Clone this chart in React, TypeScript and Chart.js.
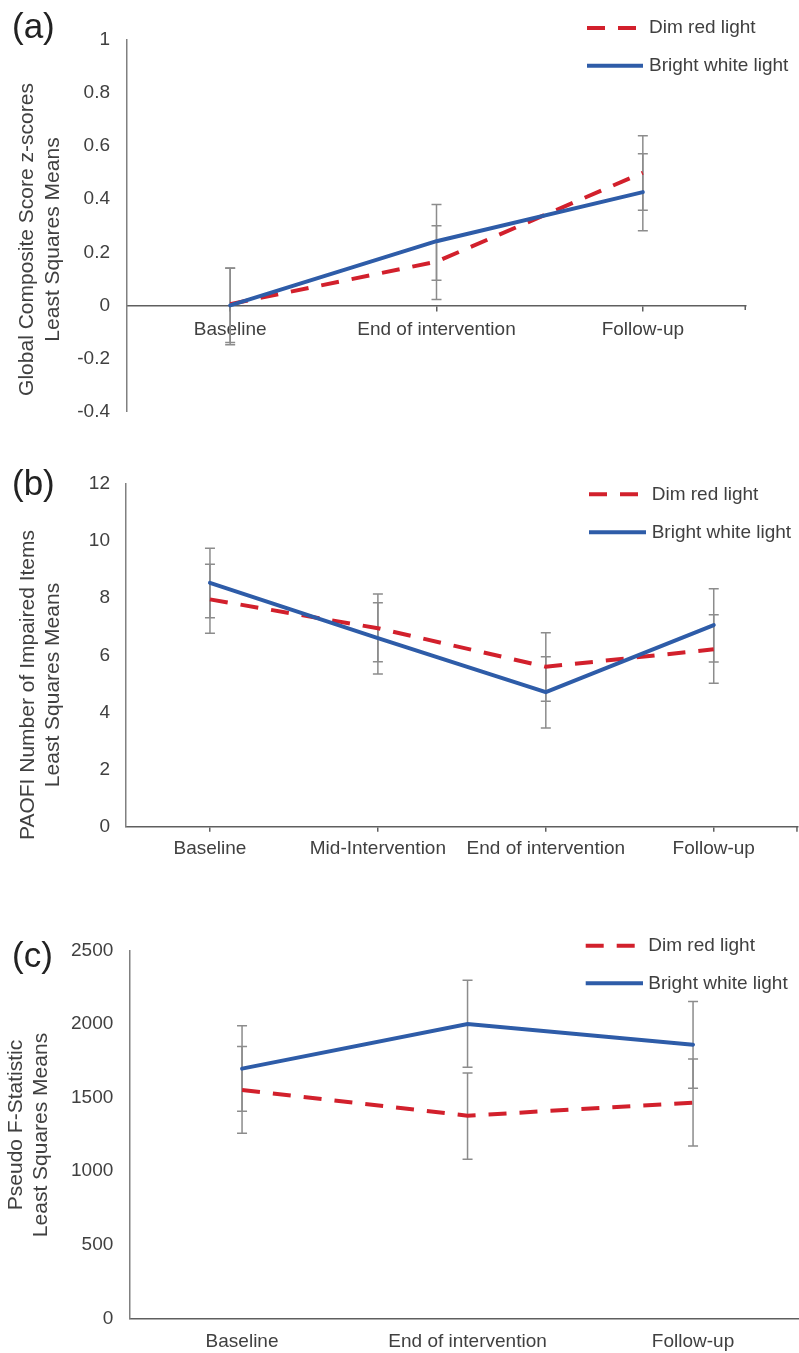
import React, { useEffect, useRef } from 'react';
import { Chart, registerables } from 'chart.js';

Chart.register(...registerables);

const FONT = '"Liberation Sans", Arial, Helvetica, sans-serif';
const TEXT = '#404040';
const RED = '#d2202c';
const BLUE = '#2e5ca8';
const ERR = '#8c8c8c';
const AXIS_X = '#5f5f5f';
const AXIS_Y = '#808080';

const seriesNames = ['Dim red light', 'Bright white light'];

// Panel (a)
const catsA = ['Baseline', 'End of intervention', 'Follow-up'];
const dimA = [0.005, 0.165, 0.5];
const dimALow = [-0.14, 0.022, 0.359];
const dimAHigh = [0.14, 0.3, 0.639];
const brightA = [0, 0.242, 0.427];
const brightALow = [-0.148, 0.095, 0.281];
const brightAHigh = [0.141, 0.38, 0.571];
const yTicksA = [-0.4, 1, 0.2]; // min, max, step
const yTitleA = ['Global Composite Score z-scores', 'Least Squares Means'];

// Panel (b)
const catsB = ['Baseline', 'Mid-Intervention', 'End of intervention', 'Follow-up'];
const dimB = [7.96, 6.95, 5.6, 6.21];
const dimBLow = [6.77, 5.78, 4.39, 5.02];
const dimBHigh = [9.19, 8.15, 6.79, 7.42];
const brightB = [8.54, 6.6, 4.71, 7.06];
const brightBLow = [7.32, 5.35, 3.46, 5.77];
const brightBHigh = [9.75, 7.84, 5.95, 8.33];
const yTicksB = [0, 12, 2];
const yTitleB = ['PAOFI Number of Impaired Items', 'Least Squares Means'];

// Panel (c)
const catsC = ['Baseline', 'End of intervention', 'Follow-up'];
const dimC = [1553, 1378, 1467];
const dimCLow = [1258, 1082, 1172];
const dimCHigh = [1848, 1669, 1764];
const brightC = [1698, 2002, 1861];
const brightCLow = [1408, 1707, 1565];
const brightCHigh = [1989, 2299, 2154];
const yTicksC = [0, 2500, 500];
const yTitleC = ['Pseudo F-Statistic', 'Least Squares Means'];

type Panel = {
  letter: string;
  top: number;
  width: number;
  height: number;
  cats: string[];
  dim: number[];
  dimLow: number[];
  dimHigh: number[];
  bright: number[];
  brightLow: number[];
  brightHigh: number[];
  yTicks: number[];
  yTitle: string[];
  pad: { left: number; top: number; right: number; bottom: number };
  yAxisWidth: number;
  yTickPad: number;
  xAtZero: boolean;
  xAxisHeight: number;
  xTickLen: number;
  xLabelPad: number;
  endTick: boolean;
  labelBaseline: number;
  titlePos: number[][];
  legendY: number[];
  legendX1: number;
  legendX2: number[];
  legendTextX: number;
};

const panels: Panel[] = [
  {
    letter: '(a)', top: 0, width: 799, height: 440,
    cats: catsA, dim: dimA, dimLow: dimALow, dimHigh: dimAHigh,
    bright: brightA, brightLow: brightALow, brightHigh: brightAHigh,
    yTicks: yTicksA, yTitle: yTitleA,
    pad: { left: 0, top: 40, right: 53, bottom: 26 },
    yAxisWidth: 127, yTickPad: 17,
    xAtZero: true, xAxisHeight: 0, xTickLen: 5, xLabelPad: 8, endTick: true,
    labelBaseline: 38,
    titlePos: [[27, 239.5], [53, 239.5]],
    legendY: [28, 65.7], legendX1: 587, legendX2: [638, 643], legendTextX: 649,
  },
  {
    letter: '(b)', top: 440, width: 799, height: 460,
    cats: catsB, dim: dimB, dimLow: dimBLow, dimHigh: dimBHigh,
    bright: brightB, brightLow: brightBLow, brightHigh: brightBHigh,
    yTicks: yTicksB, yTitle: yTitleB,
    pad: { left: 0, top: 44, right: 1.3, bottom: 0 },
    yAxisWidth: 126, yTickPad: 16,
    xAtZero: false, xAxisHeight: 73.3, xTickLen: 5, xLabelPad: 6, endTick: true,
    labelBaseline: 55,
    titlePos: [[28, 245], [53, 245]],
    legendY: [54.3, 92.3], legendX1: 589, legendX2: [641, 646], legendTextX: 651.7,
  },
  {
    letter: '(c)', top: 900, width: 820, height: 453,
    cats: catsC, dim: dimC, dimLow: dimCLow, dimHigh: dimCHigh,
    bright: brightC, brightLow: brightCLow, brightHigh: brightCHigh,
    yTicks: yTicksC, yTitle: yTitleC,
    pad: { left: 0, top: 50.7, right: 14.2, bottom: 0 },
    yAxisWidth: 129.3, yTickPad: 16,
    xAtZero: false, xAxisHeight: 34.7, xTickLen: 0, xLabelPad: 12, endTick: false,
    labelBaseline: 67.3,
    titlePos: [[16, 225], [41.7, 235]],
    legendY: [45.7, 83.3], legendX1: 585.7, legendX2: [637, 643], legendTextX: 648.3,
  },
];

function formatTick(v: number) {
  const r = Math.round(v * 1000) / 1000;
  if (r === 0) return '0';
  return String(r);
}

function makePlugin(p: Panel) {
  return {
    id: 'deco',
    beforeDatasetsDraw(chart: any) {
      const ctx = chart.ctx;
      const xs = chart.scales.x;
      const ys = chart.scales.y;
      ctx.save();
      ctx.strokeStyle = ERR;
      ctx.lineWidth = 1.5;
      chart.data.datasets.forEach((ds: any) => {
        ds.errLow.forEach((lo: number, i: number) => {
          const px = xs.getPixelForValue(i);
          const pl = ys.getPixelForValue(lo);
          const ph = ys.getPixelForValue(ds.errHigh[i]);
          ctx.beginPath();
          ctx.moveTo(px, pl);
          ctx.lineTo(px, ph);
          ctx.moveTo(px - 5, pl);
          ctx.lineTo(px + 5, pl);
          ctx.moveTo(px - 5, ph);
          ctx.lineTo(px + 5, ph);
          ctx.stroke();
        });
      });
      ctx.restore();
    },
    afterDraw(chart: any) {
      const ctx = chart.ctx;
      const area = chart.chartArea;
      ctx.save();
      if (p.endTick) {
        const ay = p.xAtZero ? Math.round(chart.scales.y.getPixelForValue(0)) : area.bottom;
        ctx.strokeStyle = AXIS_X;
        ctx.lineWidth = 1.5;
        ctx.beginPath();
        ctx.moveTo(area.right - 0.75, ay);
        ctx.lineTo(area.right - 0.75, ay + p.xTickLen);
        ctx.stroke();
      }
      ctx.fillStyle = '#222222';
      ctx.font = `35px ${FONT}`;
      ctx.textAlign = 'left';
      ctx.textBaseline = 'alphabetic';
      ctx.fillText(p.letter, 12, p.labelBaseline);
      ctx.fillStyle = TEXT;
      ctx.font = `21px ${FONT}`;
      ctx.textAlign = 'center';
      ctx.textBaseline = 'middle';
      p.yTitle.forEach((t, i) => {
        ctx.save();
        ctx.translate(p.titlePos[i][0], p.titlePos[i][1]);
        ctx.rotate(-Math.PI / 2);
        ctx.fillText(t, 0, 0);
        ctx.restore();
      });
      ctx.font = `19px ${FONT}`;
      ctx.textAlign = 'left';
      chart.data.datasets.forEach((ds: any, i: number) => {
        const y = p.legendY[i];
        ctx.strokeStyle = ds.borderColor;
        ctx.lineWidth = ds.borderWidth;
        ctx.lineCap = 'butt';
        ctx.setLineDash(ds.borderDash || []);
        ctx.beginPath();
        ctx.moveTo(p.legendX1, y);
        ctx.lineTo(p.legendX2[i], y);
        ctx.stroke();
        ctx.setLineDash([]);
        ctx.fillStyle = TEXT;
        ctx.fillText(ds.label, p.legendTextX, y);
      });
      ctx.restore();
    },
  };
}

function PanelChart({ p }: { p: Panel }) {
  const ref = useRef<HTMLCanvasElement | null>(null);
  useEffect(() => {
    const canvas = ref.current;
    if (!canvas) return;
    const xScale: any = {
      type: 'category',
      offset: true,
      position: p.xAtZero ? { y: 0 } : 'bottom',
      grid: {
        display: p.xTickLen > 0,
        drawOnChartArea: false,
        drawTicks: p.xTickLen > 0,
        tickLength: p.xTickLen,
        color: AXIS_X,
        lineWidth: 1.5,
        offset: false,
      },
      border: { display: true, color: AXIS_X, width: 1.5 },
      ticks: {
        color: TEXT,
        font: { size: 19, family: FONT },
        padding: p.xLabelPad,
        maxRotation: 0,
        autoSkip: false,
      },
    };
    if (!p.xAtZero) {
      xScale.afterFit = (s: any) => {
        s.height = p.xAxisHeight;
      };
    }
    const chart = new Chart(canvas, {
      type: 'line',
      data: {
        labels: p.cats,
        datasets: [
          {
            label: seriesNames[0],
            data: p.dim,
            errLow: p.dimLow,
            errHigh: p.dimHigh,
            borderColor: RED,
            backgroundColor: RED,
            borderWidth: 4,
            borderDash: [18, 13],
            borderCapStyle: 'butt',
            pointRadius: 0,
            tension: 0,
            order: 1,
          } as any,
          {
            label: seriesNames[1],
            data: p.bright,
            errLow: p.brightLow,
            errHigh: p.brightHigh,
            borderColor: BLUE,
            backgroundColor: BLUE,
            borderWidth: 4,
            borderCapStyle: 'round',
            pointRadius: 0,
            tension: 0,
            order: 0,
          } as any,
        ],
      },
      options: {
        responsive: false,
        animation: false,
        layout: { padding: p.pad },
        plugins: {
          legend: { display: false },
          tooltip: { enabled: false },
          title: { display: false },
        },
        scales: {
          x: xScale,
          y: {
            type: 'linear',
            min: p.yTicks[0],
            max: p.yTicks[1],
            grid: { display: false, drawTicks: false },
            border: { display: true, color: AXIS_Y, width: 1.5 },
            ticks: {
              stepSize: p.yTicks[2],
              color: TEXT,
              font: { size: 19, family: FONT },
              padding: p.yTickPad,
              callback: (v: any) => formatTick(Number(v)),
            },
            afterFit: (s: any) => {
              s.width = p.yAxisWidth;
            },
          } as any,
        },
      },
      plugins: [makePlugin(p)],
    });
    return () => chart.destroy();
  }, [p]);
  return (
    <canvas
      ref={ref}
      width={p.width}
      height={p.height}
      style={{ position: 'absolute', left: 0, top: p.top, width: p.width, height: p.height }}
    />
  );
}

export default function App() {
  return (
    <div
      style={{
        position: 'absolute',
        left: 0,
        top: 0,
        width: 799,
        height: 1353,
        overflow: 'hidden',
        background: '#ffffff',
      }}
    >
      {panels.map((p) => (
        <PanelChart key={p.letter} p={p} />
      ))}
    </div>
  );
}
